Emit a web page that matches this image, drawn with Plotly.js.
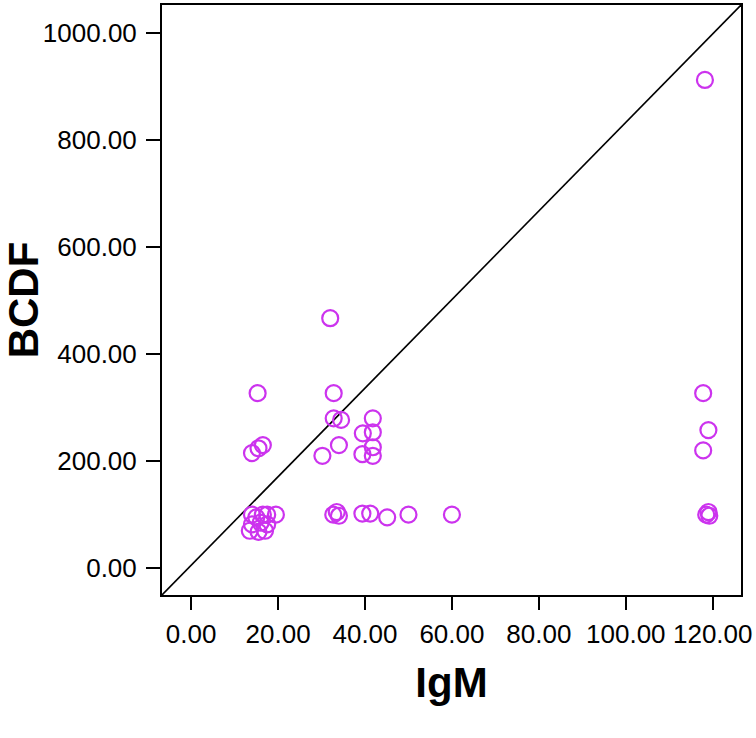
<!DOCTYPE html>
<html>
<head>
<meta charset="utf-8">
<script src="https://cdn.plot.ly/plotly-3.0.1.min.js"></script>
<style>html,body{margin:0;padding:0;background:#fff;}#chart{width:756px;height:738px;}</style>
</head>
<body>
<div id="chart"></div>
<script>
// IgM (x) and BCDF (y) values
const igm = [
  15.3, 14, 15.5, 16.5, 14, 15, 16.5, 17.5, 19.5, 14, 16, 17.5, 13.5, 15.5, 17,
  32, 32.8, 32.8, 34.5, 30.2, 34, 39.5, 39.4, 41.8, 41.8, 41.8, 41.8,
  32.7, 33.5, 34, 39.4, 41.2, 45.1, 50, 60,
  118.2, 117.8, 119, 117.8, 118.5, 119, 119.2
];
const bcdf = [
  327, 215, 224, 230, 100, 95, 100, 100, 100, 82, 85, 82, 70, 68, 70,
  467, 327, 280, 277, 210, 230, 252, 213, 280, 254, 226, 210,
  100, 105, 98, 102, 102, 95, 100, 100,
  912, 327, 258, 220, 100, 105, 98
];
// reference line endpoints (corner to corner of the plotting frame)
const refLineX = [-6.7, 126.5];
const refLineY = [-50, 1052];
const xTicks = [0, 20, 40, 60, 80, 100, 120];
const yTicks = [0, 200, 400, 600, 800, 1000];

const tickFont = {family: 'Liberation Sans, Arial, sans-serif', size: 26, color: '#000'};
const titleFont = {family: 'Liberation Sans, Arial, sans-serif', size: 42, color: '#000', weight: 'bold'};

const traces = [
  {x: refLineX, y: refLineY, mode: 'lines', line: {color: '#000', width: 1.6}, hoverinfo: 'skip', showlegend: false},
  {x: igm, y: bcdf, mode: 'markers', type: 'scatter', showlegend: false,
   marker: {symbol: 'circle-open', size: 16, color: '#cc33ee', line: {width: 2.2, color: '#cc33ee'}}}
];

const layout = {
  width: 756, height: 738,
  margin: {l: 162, r: 15, t: 5, b: 143},
  paper_bgcolor: '#fff', plot_bgcolor: '#fff',
  showlegend: false,
  xaxis: {
    range: [-6.7, 126.5], tickvals: xTicks, ticktext: xTicks.map(v => v.toFixed(2)),
    ticks: 'outside', ticklen: 13, tickwidth: 2, tickcolor: '#000',
    showgrid: false, zeroline: false, showline: true, linecolor: '#000', linewidth: 2, mirror: true,
    tickfont: tickFont, ticklabelstandoff: 2,
    title: {text: '<b>IgM</b>', font: titleFont, standoff: 19}
  },
  yaxis: {
    range: [-50, 1052], tickvals: yTicks, ticktext: yTicks.map(v => v.toFixed(2)),
    ticks: 'outside', ticklen: 14, tickwidth: 2, tickcolor: '#000',
    showgrid: false, zeroline: false, showline: true, linecolor: '#000', linewidth: 2, mirror: true,
    tickfont: tickFont, ticklabelstandoff: 4,
    title: {text: '<b>BCDF</b>', font: titleFont, standoff: 0}
  }
};

Plotly.newPlot('chart', traces, layout, {displayModeBar: false, staticPlot: true});
</script>
</body>
</html>
